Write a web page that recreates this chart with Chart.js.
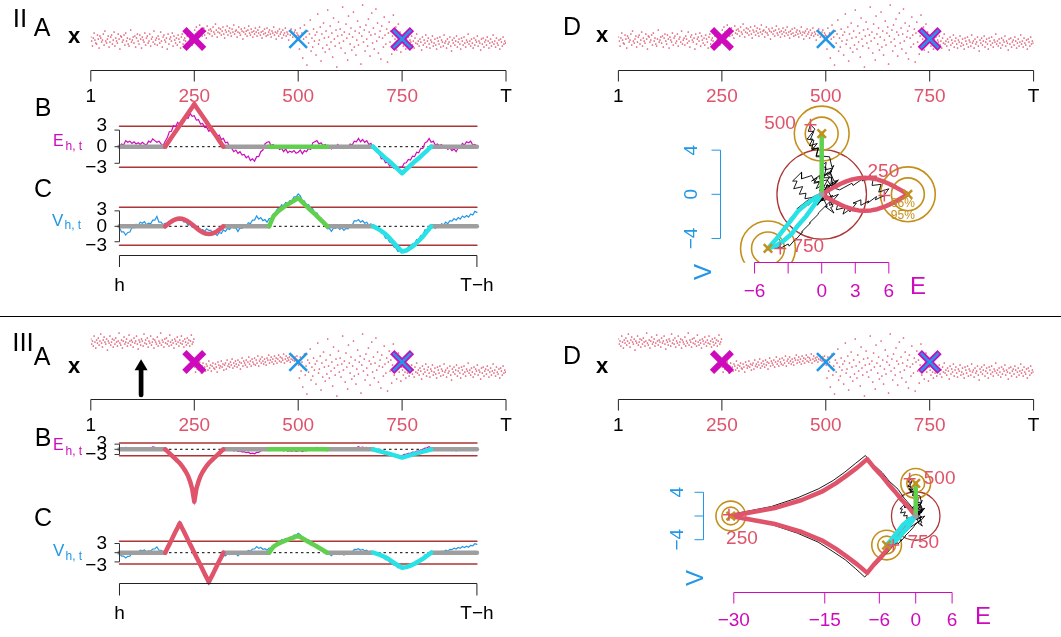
<!DOCTYPE html>
<html>
<head>
<meta charset="utf-8">
<title>Change-point monitoring panels</title>
<script src="https://cdn.jsdelivr.net/npm/chart.js@4.4.1/dist/chart.umd.min.js"></script>
<style>
  html, body { margin: 0; padding: 0; background: #fff; }
  #page { position: relative; width: 1061px; height: 637px; overflow: hidden;
          font-family: "Liberation Sans", Arial, Helvetica, sans-serif; }
  #page canvas { position: absolute; left: 0; top: 0; }
  .t { position: absolute; transform: translate(-50%, -50%); white-space: nowrap; line-height: 1; color: #000; z-index: 5; }
  .l { position: absolute; transform: translateY(-50%); white-space: nowrap; line-height: 1; z-index: 5; }
  .panel { font-size: 25px; }
  .roman { font-size: 26px; }
  .xvar { font-size: 22px; font-weight: bold; }
  .rule { position: absolute; left: 0; top: 316px; width: 1061px; height: 1px; background: #000; z-index: 5; }
</style>
</head>
<body>
<div id="page">
  <div class="rule"></div>

  <div class="t roman" style="left:20px;top:18px">II</div>
  <div class="t panel" style="left:42px;top:27px">A</div>
  <div class="t xvar" style="left:74px;top:36px">x</div>
  <div class="t panel" style="left:43px;top:107px">B</div>
  <div class="l" style="left:53px;top:141px;font-size:16px;color:#CD0BBC">E</div>
  <div class="l" style="left:65.5px;top:145.5px;font-size:12px;color:#CD0BBC">h, t</div>
  <div class="t panel" style="left:43px;top:188px">C</div>
  <div class="l" style="left:52px;top:219.5px;font-size:17px;color:#2297E6">V</div>
  <div class="l" style="left:64.5px;top:225px;font-size:12px;color:#2297E6">h, t</div>
  <div class="t panel" style="left:572px;top:26px">D</div>
  <div class="t xvar" style="left:602px;top:35px">x</div>
  <div class="t" style="left:918px;top:286px;font-size:24px;color:#CD0BBC">E</div>
  <div class="t" style="left:703px;top:272px;font-size:24px;color:#2297E6;transform:translate(-50%,-50%) rotate(-90deg)">V</div>

  <div class="t roman" style="left:23px;top:342px">III</div>
  <div class="t panel" style="left:42px;top:356px">A</div>
  <div class="t xvar" style="left:74px;top:366px">x</div>
  <div class="t panel" style="left:43px;top:437px">B</div>
  <div class="l" style="left:53px;top:445px;font-size:16px;color:#CD0BBC">E</div>
  <div class="l" style="left:65.5px;top:451px;font-size:12px;color:#CD0BBC">h, t</div>
  <div class="t panel" style="left:43px;top:517px">C</div>
  <div class="l" style="left:53px;top:550px;font-size:17px;color:#2297E6">V</div>
  <div class="l" style="left:65.5px;top:556px;font-size:12px;color:#2297E6">h, t</div>
  <div class="t panel" style="left:572px;top:355px">D</div>
  <div class="t xvar" style="left:602px;top:366px">x</div>
  <div class="t" style="left:983px;top:616px;font-size:24px;color:#CD0BBC">E</div>
  <div class="t" style="left:695px;top:578px;font-size:24px;color:#2297E6;transform:translate(-50%,-50%) rotate(-90deg)">V</div>
</div>

<script>
// ---------------- time axis ----------------
const T = 1000, H = 70;
const stripTicks = [1, 250, 500, 750, 1000];
const stripTickLabels = ['1', '250', '500', '750', 'T'];
const bcTicks = [70, 930];
const bcTickLabels = ['h', 'T\u2212h'];
const changePoints = [250, 500, 750];
const thickMarkT = [250, 750];
const thinMarkT = [500, 750];

// ---------------- observed series x_t (one value per 2 time steps) ----------------
const xStep = 2;
const segStart = [1, 251, 501, 751];
const xSeg1 = [3,-1,-6,2,7,0,-3,-4,5,1, -8,4,2,-2,0,6,-5,9,-1,-3, 1,4,-7,-2,3,5,-4,0,8,-6,
  2,-1,-3,6,1,-9,4,3,-2,0, 5,-5,7,-1,2,-4,-6,1,10,-2, 0,3,-3,4,-7,2,6,-1,-4,5,
  1,-8,3,0,-2,7,-5,2,4,-3, -1,6,-6,1,3,-2,9,-4,0,2, -5,4,1,-3,8,-1,-7,3,5,0,
  -2,2,-9,6,-4,1,3,-1,7,-6, 4,0,-3,2,-5,5,1,-2,-8,3, 6,-4,0,2,-1,-6,4,7,-3,1, -2,5,-5,3,0];
const xSeg1Shift = [30,25,28,23,33,27,21,29,26,31, 24,28,35,26,22,29,32,27,25,30, 19,28,26,33,24,27,30,22,29,25,
  31,27,23,28,36,26,24,29,21,28, 32,25,27,30,23,26,34,28,24,29, 27,22,31,26,28,33,25,20,29,27,
  24,30,28,23,35,26,29,25,31,22, 28,26,33,24,27,30,21,29,27,25, 32,23,28,26,36,24,29,27,22,30,
  26,31,25,28,23,34,27,24,29,26, 21,30,28,25,32,27,23,29,26,33, 25,28,22,30,27,24,31,26,29,23, 28,34,25,27,30];
const xSeg2 = [10,6,13,8,3,9,15,7,11,4, 8,12,5,9,2,14,7,10,6,11, 9,4,13,8,6,16,10,3,8,12,
  7,11,5,9,13,6,2,10,8,14, 5,9,12,7,4,11,8,15,6,9, 10,3,8,13,7,5,11,9,1,8,
  12,6,9,4,10,14,7,5,11,8, 3,9,6,12,8,4,10,7,13,5, 8,2,9,6,11,7,4,12,5,8,
  10,6,3,9,7,13,5,8,1,7, 9,4,11,6,8,2,10,5,7,12, 4,8,6,0,9,5,11,7,3,6, 8,10,4,7,5];
const xSeg2Shift = [2,-3,5,0,4,-1,7,1,-4,3, 6,0,2,-2,5,3,-1,8,1,4, -2,3,6,1,0,5,2,-3,7,4,
  1,3,8,2,5,-1,4,6,0,9, 3,5,2,7,4,10,1,6,3,8, 5,2,9,4,7,0,6,11,3,8,
  6,4,9,2,7,12,5,8,3,10, 7,5,11,4,9,6,13,3,8,10, 6,12,8,5,10,7,4,11,9,14,
  6,9,12,7,10,5,13,8,11,6, 10,14,8,12,7,11,9,15,6,10, 13,8,11,9,12,7,10,14,9,11, 8,12,10,13,9];
const xSeg3 = [4,-9,12,-2,7,-18,1,15,-6,3, -25,9,-3,6,20,-11,2,-7,11,-1, 5,-15,8,26,-4,0,13,-21,6,-8,
  17,2,-12,9,-5,30,3,-9,14,-2, 7,-17,22,1,-6,10,-27,4,18,-3, 11,-8,5,33,-1,8,-13,16,2,-20,
  24,6,-4,12,-10,3,28,-7,9,-15, 0,19,-5,7,13,-24,4,35,-2,10, -11,15,1,-6,21,8,-16,5,27,-3,
  12,-9,6,31,-1,17,-13,3,9,-19, 14,2,-7,23,5,-4,11,-22,7,18, -2,9,-14,4,25,-6,1,13,-10,6, 16,-3,8,-12,2];
const xSeg4 = [-1,-6,2,-3,-9,1,-4,3,-7,0, -2,4,-5,-1,-8,2,-3,6,-4,-1, -6,1,-2,-10,3,-5,0,-3,5,-7,
  -1,2,-4,-8,0,-2,4,-6,-3,1, -5,-9,2,-1,-4,3,-7,0,-2,-6, 5,-3,-1,-8,1,-4,-2,3,-6,-11,
  0,-3,2,-5,-1,4,-7,-2,1,-4, -9,2,-1,-5,3,-3,-7,0,-2,6, -4,-1,-6,1,-3,-8,2,-5,0,-2,
  4,-6,-1,-3,-10,1,-4,2,-7,-2, 0,-5,3,-1,-8,-3,1,-6,-2,5, -4,-1,-7,2,-3,-5,0,-9,1,-2, -6,3,-4,-1,-3];
const markLevel = { II: 1, III: 7 };
const arrowT = 122, arrowFrom = -26, arrowTo = 9.7;

// ---------------- monitoring statistics E_{h,t}, V_{h,t} (t = 70, 75, ..., 930) ----------------
const traceStart = 70, traceStep = 5;
const eTrace = [
  0.1,0.5,0.3,1.1,0.8,1.0,0.6,0.9,0.5,0.7,
  0.4,0.8,0.5,0.3,1.0,0.8,1.4,1.1,0.8,1.0,
  0.5,0.2,1.0,1.6,2.7,2.8,3.8,3.6,4.4,3.9,
  4.6,4.5,5.3,5.1,6.0,5.5,5.6,4.8,4.9,4.1,
  4.2,3.5,3.5,2.8,3.1,2.5,2.6,1.9,2.1,1.3,
  1.5,0.7,0.8,-0.1,-0.3,-0.9,-0.6,-1.2,-0.9,-1.5,
  -1.4,-2.0,-1.7,-2.5,-2.2,-2.6,-1.8,-1.8,-0.9,-0.6,
  0.5,0.8,0.9,0.2,0.4,-0.1,0.0,-0.5,-0.3,-0.9,
  -0.4,-1.1,-0.8,-1.0,-0.7,-1.2,-1.0,-0.6,-1.3,-0.7,
  -0.9,-0.3,-0.5,0.7,0.9,1.1,0.5,0.7,0.2,0.4,
  -0.1,0.1,-0.4,-0.1,-0.2,0.4,0.0,0.2,-0.3,0.1,
  -0.1,0.5,0.3,1.0,0.9,1.5,0.9,1.3,0.8,1.1,
  0.4,0.6,-0.2,-0.1,-1.0,-1.2,-2.2,-2.1,-2.9,-2.8,
  -3.5,-3.3,-3.9,-3.7,-4.0,-3.7,-3.7,-3.0,-2.9,-2.3,
  -2.4,-1.7,-1.8,-1.0,-1.1,-0.3,-0.3,0.7,0.9,1.5,
  0.8,1.0,0.3,0.5,0.2,0.4,-0.2,0.0,-0.5,-0.2,
  -0.7,-0.4,-0.9,-0.2,-0.2,0.6,0.3,0.9,0.7,1.0,
  0.3,0.4,0.1];
const vTrace = [
  -0.3,-1.1,-1.1,-1.7,-1.2,-1.1,-0.2,-0.3,0.4,0.2,
  0.8,0.6,0.9,0.3,0.6,0.5,1.2,1.2,1.9,0.8,
  0.8,0.3,0.6,0.4,1.0,0.8,1.5,1.2,1.7,1.3,
  1.4,0.8,0.9,0.2,0.5,-0.2,-0.1,-0.5,-0.2,-0.8,
  -0.6,-1.0,-0.5,-0.8,-0.8,-1.6,-1.3,-1.8,-1.2,-1.4,
  -0.7,-1.0,-0.4,-0.6,0.0,-0.3,-0.3,-1.0,-0.3,-0.4,
  0.1,0.0,0.7,0.5,1.2,1.2,2.0,1.4,1.7,1.1,
  1.3,0.8,1.5,1.5,2.4,2.6,3.4,3.4,4.2,4.0,
  4.6,4.4,5.0,5.0,5.7,5.7,6.3,5.9,5.0,4.9,
  4.1,4.2,3.5,3.4,2.5,2.6,1.7,1.6,0.7,0.5,
  -0.5,-0.4,-1.0,-0.3,-0.4,-0.1,-0.6,-0.3,-0.8,-0.4,
  -0.5,0.3,0.2,1.1,1.0,1.3,0.8,1.1,0.6,0.8,
  0.2,0.5,-0.1,0.1,-0.6,-0.5,-1.3,-1.4,-2.3,-2.3,
  -3.1,-3.1,-4.0,-4.2,-4.9,-4.7,-4.9,-4.5,-4.7,-4.0,
  -4.2,-3.4,-3.4,-2.6,-2.6,-1.8,-1.7,-0.7,-0.7,0.0,
  -0.3,-0.1,-0.4,0.3,0.0,0.5,0.3,0.8,0.5,1.1,
  1.0,1.5,1.2,1.7,1.4,2.0,1.7,2.1,1.8,2.4,
  2.2,2.9,2.7];
// scenario III: statistics inside the window around the first change point (t = 180..320)
const eJump3 = [0.3,-0.7,-1.9,-2.9,-4.4,-5.5,-7.1,-8.3,-9.9,-11.7,-13.6,-16.0,-19.4,-23.8,-30.8,
  -23.9,-19.5,-16.1,-13.8,-11.6,-9.9,-8.4,-7.2,-5.9,-4.6,-3.4,-2.2,-0.9,0.5];
const vJump3 = [0.4,1.6,3.0,4.5,5.9,7.3,8.8,10.2,8.9,7.4,6.0,4.6,3.1,1.6,0.2,
  -1.4,-2.9,-4.4,-5.9,-7.4,-8.9,-10.3,-8.9,-7.5,-6.1,-4.6,-3.2,-1.9,-0.9];

// ---------------- expected signatures of each change ----------------
const jumpT = [180,185,190,195,200,205,210,215,220,225,230,235,240,245,250,255,260,265,270,275,280,285,290,295,300,305,310,315,320];
const redE2 = [0,0.55,1.1,1.65,2.2,2.75,3.3,3.85,4.4,4.95,5.5,6.05,6.6,7.15,7.7,7.15,6.6,6.05,5.5,4.95,4.4,3.85,3.3,2.75,2.2,1.65,1.1,0.55,0];
const redV2 = [0,0.33,0.65,0.93,1.17,1.35,1.46,1.5,1.46,1.35,1.17,0.93,0.65,0.33,0,-0.33,-0.65,-0.93,-1.17,-1.35,-1.46,-1.5,-1.46,-1.35,-1.17,-0.93,-0.65,-0.33,0];
const redE3 = [0,-1.1,-2.3,-3.4,-4.6,-5.7,-6.9,-8.0,-9.6,-11.3,-13.2,-15.5,-18.8,-23.0,-30.5,-23.0,-18.8,-15.5,-13.2,-11.3,-9.6,-8.0,-6.9,-5.7,-4.6,-3.4,-2.3,-1.1,0];
const redV3 = [0,1.4,2.7,4.1,5.5,6.9,8.2,9.6,8.2,6.9,5.5,4.1,2.7,1.4,0,-1.4,-2.7,-4.1,-5.5,-6.9,-8.2,-9.6,-8.2,-6.9,-5.5,-4.1,-2.7,-1.4,0];
const greenT = [430,440,450,460,470,480,490,500,510,520,530,540,550,560,570];
const greenE = [0,0,0,0,0,0,0,0,0,0,0,0,0,0,0];
const greenV = [0,1.9,2.8,3.4,4.0,4.5,5.0,5.5,4.7,3.9,3.1,2.4,1.6,0.8,0];
const cyanT = [680,690,700,710,720,730,740,750,760,770,780,790,800,810,820];
const cyanE = [0,-0.7,-1.4,-2.1,-2.7,-3.4,-4.1,-4.8,-4.1,-3.4,-2.7,-2.1,-1.4,-0.7,0];
const cyanV = [0,-0.4,-0.9,-1.5,-2.3,-3.2,-4.1,-4.9,-4.7,-4.2,-3.6,-2.8,-2.0,-1.0,0];
const grayFrom = [70, 320, 570, 820];
const grayTo = [180, 430, 680, 930];
const threshold = 3.7;
const alarmRadius = 4.0;
const ringRadius = [1.47, 2.45];
const ringLabels = ['66%', '95%'];

// ---------------- styling ----------------
const MAGENTA = '#CD0BBC', BLUE = '#2297E6', RED = '#DF536B', GREEN = '#61D04F',
      CYAN = '#28E2E5', GRAY = '#9E9E9E', GOLD = '#C4901C', BROWN = '#AD3535';
const FONT = '"Liberation Sans", Arial, Helvetica, sans-serif';
const stripTickColors = ['#000', RED, RED, RED, '#000'];

// ---------------- R-style axes, labels and arrows ----------------
function drawAxis(ctx, chart, ax) {
  const sc = chart.scales[ax.scale];
  const px = ax.ticks.map(v => sc.getPixelForValue(v));
  const lo = Math.min(...px), hi = Math.max(...px);
  ctx.strokeStyle = ax.color; ctx.lineWidth = ax.lw || 1; ctx.lineCap = 'butt'; ctx.setLineDash([]);
  ctx.beginPath();
  if (ax.scale === 'x') {
    ctx.moveTo(lo, ax.at); ctx.lineTo(hi, ax.at);
    px.forEach(p => { ctx.moveTo(p, ax.at); ctx.lineTo(p, ax.at + ax.tick); });
  } else {
    ctx.moveTo(ax.at, lo); ctx.lineTo(ax.at, hi);
    px.forEach(p => { ctx.moveTo(ax.at, p); ctx.lineTo(ax.at - ax.tick, p); });
  }
  ctx.stroke();
  ctx.font = ax.font; ctx.textBaseline = 'middle';
  ax.labels.forEach((s, i) => {
    if (s === null) return;
    ctx.fillStyle = Array.isArray(ax.labelColor) ? ax.labelColor[i] : ax.labelColor;
    const dy = ax.dy ? ax.dy[i] : 0;
    if (ax.scale === 'x') {
      ctx.textAlign = 'center'; ctx.fillText(s, px[i], ax.at + ax.gap);
    } else if (ax.rotate) {
      ctx.save(); ctx.translate(ax.at - ax.gap, px[i] + dy); ctx.rotate(-Math.PI / 2);
      ctx.textAlign = 'center'; ctx.fillText(s, 0, 0); ctx.restore();
    } else {
      ctx.textAlign = 'right'; ctx.fillText(s, ax.at - ax.gap, px[i] + dy);
    }
  });
}

const rPlot = {
  id: 'rPlot',
  afterDatasetsDraw(chart) {
    const cfg = chart.canvas.rcfg || {};
    const ctx = chart.ctx;
    const xs = chart.scales.x, ys = chart.scales.y;
    ctx.save();
    (cfg.axes || []).forEach(ax => drawAxis(ctx, chart, ax));
    (cfg.texts || []).forEach(t => {
      ctx.fillStyle = t.color; ctx.font = t.font;
      ctx.textAlign = 'center'; ctx.textBaseline = 'middle';
      ctx.fillText(t.text, xs.getPixelForValue(t.x) + (t.dx || 0), ys.getPixelForValue(t.y) + (t.dy || 0));
    });
    (cfg.arrows || []).forEach(a => {
      const x = xs.getPixelForValue(a.x), y0 = ys.getPixelForValue(a.from), y1 = ys.getPixelForValue(a.to);
      ctx.strokeStyle = a.color; ctx.fillStyle = a.color; ctx.lineWidth = a.width; ctx.lineCap = 'round';
      ctx.beginPath(); ctx.moveTo(x, y0); ctx.lineTo(x, y1 + a.head * 0.7); ctx.stroke();
      ctx.beginPath(); ctx.moveTo(x, y1); ctx.lineTo(x - a.half, y1 + a.head); ctx.lineTo(x + a.half, y1 + a.head);
      ctx.closePath(); ctx.fill();
    });
    ctx.restore();
  }
};
Chart.register(rPlot);
Chart.defaults.font.family = FONT;

// ---------------- dataset helpers ----------------
function pts(xs, ys) { return xs.map((x, i) => ({ x: x, y: ys[i] })); }
function path(data, color, width, extra) {
  return Object.assign({ data: data, showLine: true, borderColor: color, backgroundColor: color,
    borderWidth: width, pointRadius: 0, pointHoverRadius: 0, pointHitRadius: 0, tension: 0,
    borderCapStyle: 'round', borderJoinStyle: 'round' }, extra || {});
}
function marks(data, style, radius, color, width, extra) {
  return Object.assign({ data: data, showLine: false, pointStyle: style, pointRadius: radius,
    pointHoverRadius: radius, pointBorderColor: color, pointBackgroundColor: color,
    pointBorderWidth: width, borderWidth: width }, extra || {});
}
function pxRadius(chart, r) {
  const s = chart.scales.x;
  return Math.abs(s.getPixelForValue(r) - s.getPixelForValue(0));
}
function ring(x, y, r, color, width) {
  return marks([{ x: x, y: y }], 'circle', c => pxRadius(c.chart, r), color, width,
    { pointBackgroundColor: 'rgba(0,0,0,0)', clip: 0 });
}

const page = document.getElementById('page');
function makeChart(box, xr, yr, datasets, cfg) {
  const cv = document.createElement('canvas');
  cv.width = 1061; cv.height = 637;
  cv.style.width = '1061px'; cv.style.height = '637px';
  page.appendChild(cv);
  cv.rcfg = cfg;
  const n = datasets.length;
  datasets.forEach((d, i) => { d.order = n - i; });   // later datasets are painted on top
  return new Chart(cv, {
    type: 'scatter',
    data: { datasets: datasets },
    options: {
      responsive: false, animation: false, devicePixelRatio: 1, events: [],
      layout: { autoPadding: false,
                padding: { left: box.l, top: box.t, right: 1061 - box.r, bottom: 637 - box.b } },
      plugins: { legend: { display: false }, tooltip: { enabled: false } },
      scales: {
        x: { type: 'linear', display: false, bounds: 'data', min: xr[0], max: xr[1] },
        y: { type: 'linear', display: false, bounds: 'data', min: yr[0], max: yr[1] }
      }
    }
  });
}

// ---------------- derived series ----------------
const traceT = eTrace.map((_, i) => traceStart + traceStep * i);
const jumpIdx = (jumpT[0] - traceStart) / traceStep;
const eTrace3 = eTrace.slice(0, jumpIdx).concat(eJump3, eTrace.slice(jumpIdx + eJump3.length));
const vTrace3 = vTrace.slice(0, jumpIdx).concat(vJump3, vTrace.slice(jumpIdx + vJump3.length));
const atTime = (arr, t) => arr[(t - traceStart) / traceStep];

// ---------------- panel builders ----------------
function stripChart(left, right, top, bottom, ymin, segs, level, axisY) {
  const dots = [];
  segs.forEach((s, k) => s.forEach((v, i) => dots.push({ x: segStart[k] + xStep * i, y: v })));
  const at = t => ({ x: t, y: level });
  const ds = [
    marks(dots, 'circle', 0.85, RED, 0),
    marks(thickMarkT.map(at), 'crossRot', 14, MAGENTA, 6),
    marks(thinMarkT.map(at), 'crossRot', 12.5, BLUE, 2.6)
  ];
  const ymax = ymin + (bottom - top);
  return { ds: ds, box: { l: left, r: right, t: top, b: bottom }, yr: [ymin, ymax],
    axis: { scale: 'x', at: axisY, ticks: stripTicks, labels: stripTickLabels, color: '#222',
            labelColor: stripTickColors, tick: 11, gap: 26.5, font: '19px ' + FONT } };
}

function bcDatasets(trace, traceColor, curves) {
  const ds = [
    path([{ x: H, y: threshold }, { x: T - H, y: threshold }], BROWN, 1.5),
    path([{ x: H, y: -threshold }, { x: T - H, y: -threshold }], BROWN, 1.5),
    path([{ x: H, y: 0 }, { x: T - H, y: 0 }], '#000', 1, { borderDash: [2.5, 3], borderCapStyle: 'butt' }),
    path(pts(traceT, trace), traceColor, 1.2, { borderJoinStyle: 'miter' })
  ];
  grayFrom.forEach((a, i) => ds.push(path([{ x: a, y: 0 }, { x: grayTo[i], y: 0 }], GRAY, 4.5)));
  curves.forEach(c => ds.push(path(pts(c.t, c.y), c.color, 4.5)));
  return ds;
}

function yAxis(labels, dy) {
  return { scale: 'y', at: 119.5, ticks: [-3, 0, 3], labels: labels, dy: dy, color: '#333',
           labelColor: '#000', tick: 5, gap: 12.5, font: '19px ' + FONT };
}

function phaseDatasets(eT, vT, curves, obs) {
  const ds = [ring(0, 0, alarmRadius, BROWN, 1.3)];
  curves.forEach(c => ringRadius.forEach(r => ds.push(ring(c.e[c.peak], c.v[c.peak], r, GOLD, 1.6))));
  ds.push(path(pts(eT, vT), '#000', 0.9, { borderCapStyle: 'butt', borderJoinStyle: 'miter' }));
  curves.forEach(c => ds.push(path(pts(c.e, c.v), c.color, 4.5)));
  ds.push(marks([{ x: 0, y: 0 }], 'circle', 2.8, GRAY, 0));
  ds.push(marks(curves.map(c => ({ x: c.e[c.peak], y: c.v[c.peak] })), 'crossRot', 6, GOLD, 2.5));
  ds.push(marks(obs, 'cross', 6, RED, 1.5));
  return ds;
}

const stripLeftA = 90.8, stripRightA = 506.0, stripLeftD = 618.4, stripRightD = 1033.6;
const segsII = [xSeg1, xSeg2, xSeg3, xSeg4];
const segsIII = [xSeg1Shift, xSeg2Shift, xSeg3, xSeg4];

// ---- II A and II D strips ----
[[stripLeftA, stripRightA], [stripLeftD, stripRightD]].forEach(([l, r]) => {
  const s = stripChart(l, r, 0, 70, -30, segsII, markLevel.II, 70.5);
  makeChart(s.box, [1, T], s.yr, s.ds, { axes: [s.axis] });
});
// ---- III A and III D strips ----
[[stripLeftA, stripRightA, true], [stripLeftD, stripRightD, false]].forEach(([l, r, arrow]) => {
  const s = stripChart(l, r, 325, 399, -30, segsIII, markLevel.III, 399.5);
  const cfg = { axes: [s.axis] };
  if (arrow) cfg.arrows = [{ x: arrowT, from: arrowFrom, to: arrowTo, color: '#000', width: 4.7, head: 11, half: 6.5 }];
  makeChart(s.box, [1, T], s.yr, s.ds, cfg);
});

// ---- II B, II C ----
const curvesB2 = [
  { t: jumpT, y: redE2, color: RED }, { t: greenT, y: greenE, color: GREEN }, { t: cyanT, y: cyanE, color: CYAN }];
const curvesC2 = [
  { t: jumpT, y: redV2, color: RED }, { t: greenT, y: greenV, color: GREEN }, { t: cyanT, y: cyanV, color: CYAN }];
makeChart({ l: stripLeftA, r: stripRightA, t: 98, b: 180 }, [1, T], [-6.022, 8.807],
  bcDatasets(eTrace, MAGENTA, curvesB2),
  { axes: [yAxis(['\u22123', '0', '3'], [4.5, 0, -4.5])] });
makeChart({ l: stripLeftA, r: stripRightA, t: 190, b: 262 }, [1, T], [-6.93, 7.05],
  bcDatasets(vTrace, BLUE, curvesC2),
  { axes: [yAxis(['\u22123', '0', '3'], [4, 0, -1.5]),
           { scale: 'x', at: 255.5, ticks: bcTicks, labels: bcTickLabels, color: '#222', labelColor: '#000',
             tick: 11.5, gap: 30, font: '19px ' + FONT }] });

// ---- III B, III C ----
const curvesB3 = [
  { t: jumpT, y: redE3, color: RED }, { t: greenT, y: greenE, color: GREEN }, { t: cyanT, y: cyanE, color: CYAN }];
const curvesC3 = [
  { t: jumpT, y: redV3, color: RED }, { t: greenT, y: greenV, color: GREEN }, { t: cyanT, y: cyanV, color: CYAN }];
makeChart({ l: stripLeftA, r: stripRightA, t: 436, b: 506 }, [1, T], [-32.97, 7.73],
  bcDatasets(eTrace3, MAGENTA, curvesB3),
  { axes: [yAxis(['\u22123', null, '3'], [0, 0, 0])] });
makeChart({ l: stripLeftA, r: stripRightA, t: 515, b: 590 }, [1, T], [-12.15, 12.28],
  bcDatasets(vTrace3, BLUE, curvesC3),
  { axes: [yAxis(['\u22123', null, '3'], [4, 0, 0]),
           { scale: 'x', at: 583.5, ticks: bcTicks, labels: bcTickLabels, color: '#222', labelColor: '#000',
             tick: 12, gap: 30, font: '19px ' + FONT }] });

// ---- II D phase plot ----
const obs2 = changePoints.map(t => ({ x: atTime(eTrace, t), y: atTime(vTrace, t) }));
const phaseCurves2 = [
  { e: redE2, v: redV2, color: RED, peak: 14 },
  { e: greenE, v: greenV, color: GREEN, peak: 7 },
  { e: cyanE, v: cyanV, color: CYAN, peak: 7 }];
const lblFont = '19px ' + FONT;
makeChart({ l: 720.7, r: 960, t: 95, b: 262.7 }, [-9.026, 12.36], [-6.196, 8.995],
  phaseDatasets(eTrace, vTrace, phaseCurves2, obs2),
  { axes: [
      { scale: 'x', at: 262.5, ticks: [-6, -3, 0, 3, 6], labels: ['\u22126', null, '0', '3', '6'],
        color: MAGENTA, labelColor: MAGENTA, tick: 11, gap: 29, font: lblFont },
      { scale: 'y', at: 720.5, ticks: [-4, 0, 4], labels: ['\u22124', '0', '4'], rotate: true,
        color: BLUE, labelColor: BLUE, tick: 9, gap: 29, font: lblFont }],
    texts: [
      { x: obs2[0].x, y: obs2[0].y, dx: -1, dy: -23.5, text: '250', color: RED, font: lblFont },
      { x: obs2[1].x, y: obs2[1].y, dx: -30.5, dy: -0.5, text: '500', color: RED, font: lblFont },
      { x: obs2[2].x, y: obs2[2].y, dx: 28, dy: -1.7, text: '750', color: RED, font: lblFont },
      { x: redE2[14], y: redV2[14], dx: -5, dy: 9.7, text: ringLabels[0], color: GOLD, font: '12px ' + FONT },
      { x: redE2[14], y: redV2[14], dx: -5, dy: 21.4, text: ringLabels[1], color: GOLD, font: '12px ' + FONT }] });

// ---- III D phase plot ----
const obs3 = changePoints.map(t => ({ x: atTime(eTrace3, t), y: atTime(vTrace3, t) }));
const phaseCurves3 = [
  { e: redE3, v: redV3, color: RED, peak: 14 },
  { e: greenE, v: greenV, color: GREEN, peak: 7 },
  { e: cyanE, v: cyanV, color: CYAN, peak: 7 }];
makeChart({ l: 703.3, r: 1000, t: 440, b: 592.3 }, [-35.03, 13.9], [-12.87, 12.82],
  phaseDatasets(eTrace3, vTrace3, phaseCurves3, obs3),
  { axes: [
      { scale: 'x', at: 592.5, ticks: [-30, -15, -6, 0, 6], labels: ['\u221230', '\u221215', '\u22126', '0', '6'],
        color: MAGENTA, labelColor: MAGENTA, tick: 11, gap: 28, font: lblFont },
      { scale: 'y', at: 703.5, ticks: [-4, 0, 4], labels: ['\u22124', null, '4'], rotate: true,
        color: BLUE, labelColor: BLUE, tick: 9, gap: 26, font: lblFont }],
    texts: [
      { x: obs3[0].x, y: obs3[0].y, dx: 13, dy: 23.5, text: '250', color: RED, font: lblFont },
      { x: obs3[1].x, y: obs3[1].y, dx: 30, dy: 0, text: '500', color: RED, font: lblFont },
      { x: obs3[2].x, y: obs3[2].y, dx: 30, dy: -2, text: '750', color: RED, font: lblFont }] });
</script>
</body>
</html>
